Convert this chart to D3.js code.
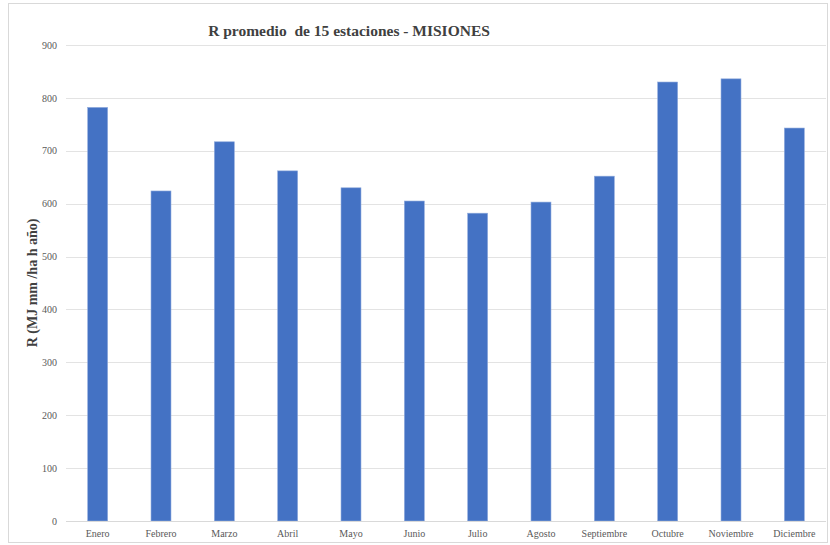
<!DOCTYPE html>
<html>
<head>
<meta charset="utf-8">
<script src="https://cdn.jsdelivr.net/npm/d3@7"></script>
<style>
  html, body { margin: 0; padding: 0; background: #fff; }
  svg { display: block; }
</style>
</head>
<body>
<svg id="chart" width="830" height="545"></svg>
<script>
// Monthly average rainfall erosivity (R) across 15 stations, Misiones
const months = ["Enero", "Febrero", "Marzo", "Abril", "Mayo", "Junio",
                "Julio", "Agosto", "Septiembre", "Octubre", "Noviembre", "Diciembre"];
const rValues = [782, 624, 717, 662, 630, 605, 582, 603, 652, 830, 836, 743];
const yTicks = [0, 100, 200, 300, 400, 500, 600, 700, 800, 900];

const svg = d3.select("#chart");
const W = 830, H = 545;
const margin = { left: 66, right: 4, top: 45, bottom: 24 };

// Outer chart frame
svg.append("rect")
  .attr("x", 8.5).attr("y", 3.5)
  .attr("width", W - 11).attr("height", H - 6)
  .attr("fill", "#fff").attr("stroke", "#d9d9d9").attr("stroke-width", 1);

const x = d3.scaleBand()
  .domain(months)
  .range([margin.left, W - margin.right])
  .paddingInner(0.685)
  .paddingOuter(0.3425);

const y = d3.scaleLinear()
  .domain([0, 900])
  .range([H - margin.bottom, margin.top]);

// Gridlines
svg.append("g")
  .selectAll("line")
  .data(yTicks.filter(t => t > 0))
  .join("line")
  .attr("x1", margin.left).attr("x2", W - margin.right)
  .attr("y1", d => Math.round(y(d)) + 0.5).attr("y2", d => Math.round(y(d)) + 0.5)
  .attr("stroke", "#e3e3e3").attr("stroke-width", 1);

// Y axis tick labels
const yAxis = d3.axisLeft(y).tickValues(yTicks).tickSize(0).tickPadding(9);
const yg = svg.append("g")
  .attr("transform", `translate(${margin.left},0)`)
  .call(yAxis);
yg.select(".domain").remove();
yg.selectAll("text")
  .attr("font-family", "'Liberation Serif', 'Times New Roman', serif")
  .attr("font-size", 10)
  .attr("fill", "#595959");

// Bars
svg.append("g")
  .selectAll("rect")
  .data(months.map((m, i) => ({ m, v: rValues[i] })))
  .join("rect")
  .attr("x", d => x(d.m))
  .attr("y", d => y(d.v))
  .attr("width", x.bandwidth())
  .attr("height", d => y(0) - y(d.v))
  .attr("fill", "#4472C4")
  .attr("stroke", "#8faadc")
  .attr("stroke-width", 0.6);

// X axis
const xAxis = d3.axisBottom(x).tickSize(0).tickPadding(8);
const xg = svg.append("g")
  .attr("transform", `translate(0,${Math.round(y(0)) + 0.5})`)
  .call(xAxis);
xg.select(".domain")
  .attr("stroke", "#d9d9d9")
  .attr("d", `M${margin.left},0H${W - margin.right}`);
xg.selectAll("text")
  .attr("font-family", "'Liberation Serif', 'Times New Roman', serif")
  .attr("font-size", 10)
  .attr("fill", "#595959");

// Title
svg.append("text")
  .attr("x", 349).attr("y", 36)
  .attr("text-anchor", "middle")
  .attr("font-family", "'Liberation Serif', 'Times New Roman', serif")
  .attr("font-weight", "bold")
  .attr("font-size", 15.5)
  .attr("fill", "#404040")
  .attr("xml:space", "preserve")
  .text("R promedio  de 15 estaciones - MISIONES");

// Y axis title
svg.append("text")
  .attr("transform", `translate(37,${(margin.top + H - margin.bottom) / 2}) rotate(-90)`)
  .attr("text-anchor", "middle")
  .attr("font-family", "'Liberation Serif', 'Times New Roman', serif")
  .attr("font-weight", "bold")
  .attr("font-size", 14)
  .attr("fill", "#404040")
  .text("R (MJ mm /ha h año)");
</script>
</body>
</html>
